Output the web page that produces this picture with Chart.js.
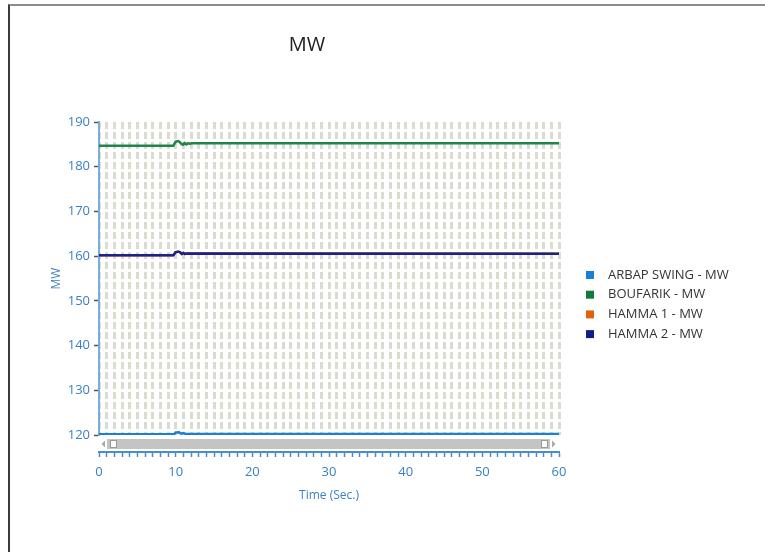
<!DOCTYPE html>
<html>
<head>
<meta charset="utf-8">
<script src="https://cdn.jsdelivr.net/npm/chart.js@4/dist/chart.umd.min.js"></script>
<style>
  html, body { margin: 0; padding: 0; background: #fff; }
  #wrap { position: relative; width: 765px; height: 552px; overflow: hidden; }
  #frame { position: absolute; left: 8px; top: 4px; right: -4px; bottom: -4px;
           border-top: 2px solid #8c8c8c; border-left: 2px solid #3a3a3a; pointer-events: none; }
</style>
</head>
<body>
<div id="wrap">
  <canvas id="c" width="765" height="552"></canvas>
  <div id="frame"></div>
</div>
<script>
// Series names and colours
const seriesNames  = ['ARBAP SWING - MW', 'BOUFARIK - MW', 'HAMMA 1 - MW', 'HAMMA 2 - MW'];
const seriesColors = ['#1a7fd6', '#1f8548', '#e0620f', '#1c2388'];
const legendColors = ['#1a7fd6', '#147a3c', '#e0620f', '#0d1f8c'];

// Time stamps (s) and MW readings per unit
const arbapTime = [0, 9.8, 10.0, 10.45, 10.7, 11.0, 11.3, 60];
const arbapMW   = [120.15, 120.15, 120.55, 120.6, 120.3, 120.45, 120.25, 120.25];

const boufarikTime = [0, 9.7, 10.0, 10.35, 10.55, 10.8, 11.0, 11.15, 11.4, 11.6, 11.85, 12.1, 60];
const boufarikMW   = [184.7, 184.7, 185.6, 185.75, 185.5, 185.0, 184.95, 185.3, 185.0, 185.25, 185.15, 185.25, 185.25];

const hamma1Time = [0, 9.7, 10.0, 10.35, 10.55, 10.8, 11.0, 11.2, 11.5, 60];
const hamma1MW   = [160.2, 160.2, 160.9, 161.0, 160.9, 160.5, 160.7, 160.5, 160.6, 160.55];

const hamma2Time = [0, 9.7, 10.0, 10.35, 10.55, 10.8, 11.0, 11.2, 11.5, 60];
const hamma2MW   = [160.2, 160.2, 160.9, 161.0, 160.9, 160.5, 160.7, 160.5, 160.6, 160.55];

// Axis settings
const timeMin = 0, timeMax = 60, timeStep = 1, timeLabelEvery = 10;
const mwMin = 120, mwMax = 190, mwStep = 10;

const toPoints = (t, v) => t.map((x, i) => ({ x: x, y: v[i] }));
const seriesData = [
  toPoints(arbapTime, arbapMW),
  toPoints(boufarikTime, boufarikMW),
  toPoints(hamma1Time, hamma1MW),
  toPoints(hamma2Time, hamma2MW)
];
// HAMMA 1 sits underneath HAMMA 2
const drawOrder = [0, 0, 2, 1];

const FONT = "'Open Sans', 'DejaVu Sans', sans-serif";
const BLUE_TEXT = '#3a80c2';

// Chart title, legend and range scrollbar
const decorations = {
  id: 'decorations',
  afterDraw(chart) {
    const ctx = chart.ctx;
    const a = chart.chartArea;
    ctx.save();

    // title
    ctx.fillStyle = '#222';
    ctx.font = '20px ' + FONT;
    ctx.textAlign = 'center';
    ctx.textBaseline = 'middle';
    ctx.fillText('MW', 307, 45);

    // scrollbar under the plot
    const sy = a.bottom + 4, sh = 10;
    ctx.fillStyle = '#c4c4c4';
    ctx.fillRect(a.left + 8, sy, (a.right - 9) - (a.left + 8), sh);
    ctx.fillStyle = '#a8a8a8';
    ctx.beginPath();
    ctx.moveTo(a.left + 2.5, sy + sh / 2);
    ctx.lineTo(a.left + 6, sy + 1.5);
    ctx.lineTo(a.left + 6, sy + sh - 1.5);
    ctx.closePath(); ctx.fill();
    ctx.beginPath();
    ctx.moveTo(a.right - 3.5, sy + sh / 2);
    ctx.lineTo(a.right - 7, sy + 1.5);
    ctx.lineTo(a.right - 7, sy + sh - 1.5);
    ctx.closePath(); ctx.fill();
    ctx.fillStyle = '#fafafa';
    ctx.strokeStyle = '#9a9a9a';
    ctx.lineWidth = 1;
    ctx.fillRect(a.left + 12, sy + 2, 5, 6);
    ctx.strokeRect(a.left + 11.5, sy + 1.5, 6, 7);
    ctx.fillRect(a.right - 17, sy + 2, 5, 6);
    ctx.strokeRect(a.right - 17.5, sy + 1.5, 6, 7);

    // legend
    ctx.font = '13px ' + FONT;
    ctx.textAlign = 'left';
    ctx.textBaseline = 'middle';
    chart.data.datasets.forEach((ds, i) => {
      const cy = 275 + i * 19.7;
      ctx.fillStyle = legendColors[i];
      ctx.fillRect(586, cy - 4, 8, 8);
      ctx.fillStyle = '#333';
      ctx.fillText(ds.label, 608, cy);
    });
    ctx.restore();
  }
};

new Chart(document.getElementById('c'), {
  type: 'line',
  data: {
    datasets: seriesNames.map((name, i) => ({
      label: name,
      data: seriesData[i],
      borderColor: seriesColors[i],
      backgroundColor: seriesColors[i],
      borderWidth: 2.5,
      pointRadius: 0,
      tension: 0,
      fill: false,
      order: drawOrder[i],
      xAxisID: 'x',
      yAxisID: 'y'
    }))
  },
  options: {
    responsive: false,
    animation: false,
    layout: { padding: { left: 45, top: 122, right: 206, bottom: 45 } },
    plugins: {
      legend: { display: false },
      tooltip: { enabled: false },
      title: { display: false }
    },
    scales: {
      x: {
        type: 'linear',
        position: 'bottom',
        weight: 0,
        min: timeMin, max: timeMax,
        ticks: { display: false, stepSize: timeStep, autoSkip: false },
        grid: { color: '#dcdbcf', lineWidth: 3, drawTicks: false },
        border: { display: false, dash: [7, 3] },
        afterFit(s) { s.height = 17; }
      },
      x2: {
        type: 'linear',
        position: 'bottom',
        weight: 1,
        min: timeMin, max: timeMax,
        ticks: {
          stepSize: timeStep, autoSkip: false, maxRotation: 0, padding: 7,
          color: BLUE_TEXT, font: { family: FONT, size: 13 },
          callback: v => (v % timeLabelEvery === 0 ? String(v) : '')
        },
        grid: { drawOnChartArea: false, tickLength: 5, tickColor: '#4a8ccc', tickWidth: 1.5 },
        border: { color: '#4a8ccc', width: 2 },
        title: { display: true, text: 'Time (Sec.)', color: BLUE_TEXT,
                 font: { family: FONT, size: 12 }, padding: { top: 4, bottom: 4 } },
        afterFit(s) { s.height = 55; }
      },
      y: {
        type: 'linear',
        min: mwMin, max: mwMax,
        ticks: { stepSize: mwStep, padding: 4, color: BLUE_TEXT, font: { family: FONT, size: 13 } },
        grid: { drawOnChartArea: false, tickLength: 5, tickColor: '#555', tickWidth: 1.5 },
        border: { color: '#7aaed8', width: 2 },
        title: { display: true, text: 'MW', color: BLUE_TEXT,
                 font: { family: FONT, size: 12 }, padding: { top: 4, bottom: 4 } },
        afterFit(s) { s.width = 54; }
      }
    }
  },
  plugins: [decorations]
});
</script>
</body>
</html>
